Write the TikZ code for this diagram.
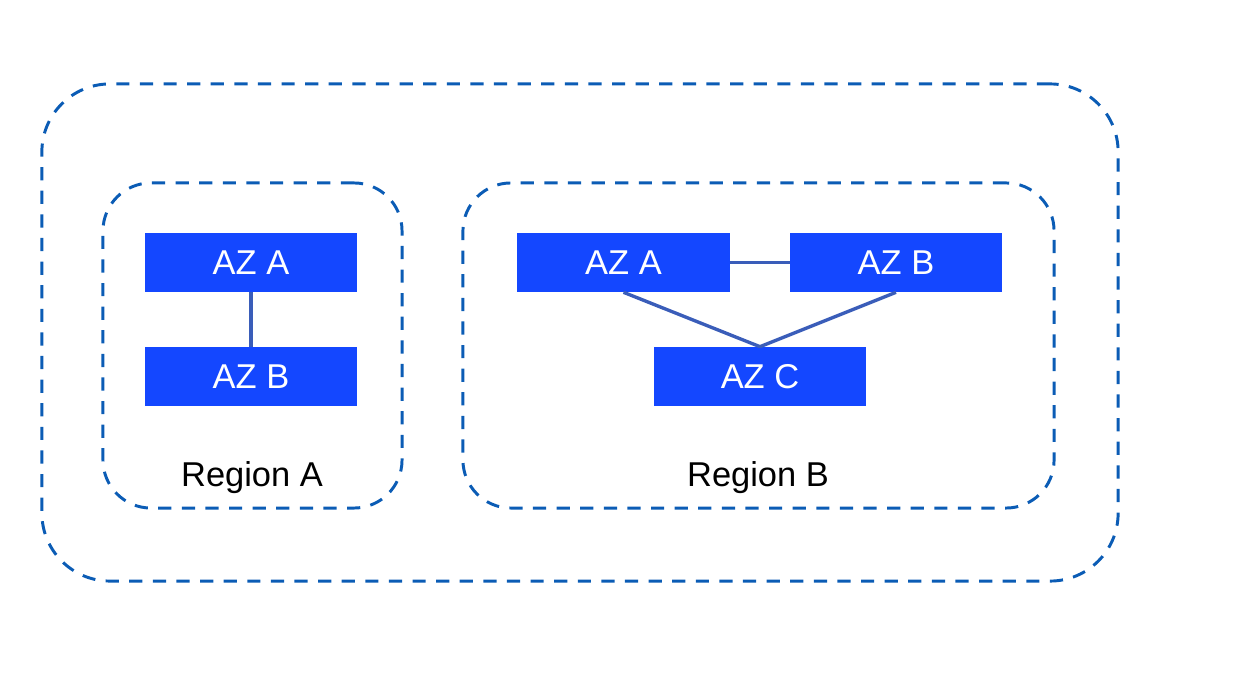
\documentclass[tikz,border=0pt]{standalone}
\usepackage{fontspec}
\setmainfont{Liberation Sans}
\usepackage{tikz}
\usetikzlibrary{positioning}
\definecolor{azfill}{HTML}{1447FF}
\definecolor{zoneblue}{HTML}{0B5CB5}
\definecolor{linkblue}{HTML}{3A5DB9}

\begin{document}
\begin{tikzpicture}[
  x=0.025cm, y=-0.025cm,
  aznode/.style={rectangle, fill=azfill, text=white, minimum width=5.3cm,
    minimum height=1.475cm, inner sep=0pt, font=\fontsize{24.5}{28}\selectfont},
  zone/.style={rectangle, draw=zoneblue, line width=2.1pt,
    dash pattern=on 0.33cm off 0.26cm, inner sep=0pt},
  zlabel/.style={font=\fontsize{24.5}{28}\selectfont, text=black},
  link/.style={draw=linkblue, line width=2.4pt}
]
\useasboundingbox (0,0) rectangle (1238,682);

% ---- Outer boundary and regions ----
\node[zone, rounded corners=1.7cm, minimum width=26.9cm, minimum height=12.425cm] (outer) at (580,332.5) {};
\node[zone, rounded corners=1.2cm, minimum width=7.475cm, minimum height=8.125cm] (rega) at (252.5,345.5) {};
\node[zone, rounded corners=1.2cm, minimum width=14.775cm, minimum height=8.125cm] (regb) at (758.5,345.5) {};

\node[zlabel] (rega label) at (252,478) {Region A};
\node[zlabel] (regb label) at (758,478) {Region B};

% ---- Region A zones ----
\node[aznode] (a1) at (251,262.5) {AZ A};
\node[aznode] (a2) at (251,376.5) {AZ B};

% ---- Region B zones ----
\node[aznode] (b1) at (623.5,262.5) {AZ A};
\node[aznode] (b2) at (896,262.5) {AZ B};
\node[aznode] (b3) at (760,376.5) {AZ C};

% ---- Links ----
\draw[link] (a1.south) -- (a2.north);
\draw[link] (b1.east) -- (b2.west);
\draw[link] (b1.south) -- (b3.north);
\draw[link] (b2.south) -- (b3.north);

\end{tikzpicture}
\end{document}
